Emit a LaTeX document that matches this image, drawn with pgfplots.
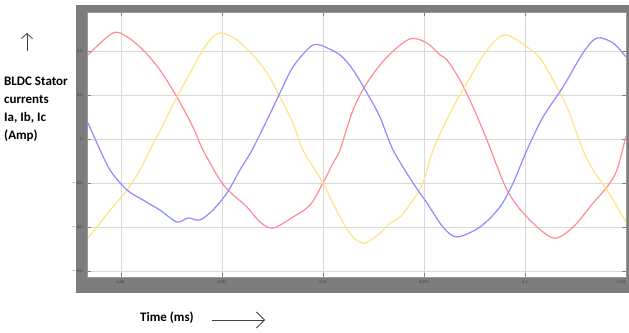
\documentclass[border=0pt]{standalone}
\usepackage{pgfplots}
\pgfplotsset{compat=1.18}
\usetikzlibrary{arrows.meta}
\usepackage{fontspec}
\setmainfont{Carlito}
\definecolor{redc}{RGB}{255,140,150}
\definecolor{yelc}{RGB}{255,228,130}
\definecolor{bluc}{RGB}{140,140,255}
\definecolor{framegray}{RGB}{125,125,125}
\begin{document}
\begin{tikzpicture}[x=1pt,y=1pt]
\path[use as bounding box,fill=white] (0,0) rectangle (629,332);
\fill[framegray] (76,39) rectangle (629,327);
\begin{axis}[at={(87pt,55pt)}, anchor=south west, width=539pt, height=265pt, scale only axis,
  xmin=78.32, xmax=105, ymin=-62.7, ymax=57.7,
  xtick={80,85,...,105}, xticklabels={0.08,0.085,0.09,0.095,0.1,\makebox[0pt][r]{0.105}},
  ytick={-60,-40,...,40},
  grid=major, grid style={black!15, line width=0.8pt},
  axis line style={black!40},
  tick style={black!50},
  tick label style={font=\fontsize{4}{4}\selectfont, text=black!75},
  axis background/.style={fill=white},
  every axis plot/.append style={line width=1.2pt, no markers, smooth, tension=0.5}]
\addplot[redc] coordinates {
(78.37,38.2)(79.60,48.2)(80.30,46.4)(81.09,40.5)(81.93,31.4)(82.77,19.1)(83.56,5.5)(84.06,-5.0)
(84.90,-18.6)(85.40,-24.1)(86.24,-30.9)(86.88,-37.7)(87.52,-40.5)(88.51,-35.5)(89.36,-30.0)
(90.00,-20.0)(90.50,-10.9)(90.84,-5.0)(91.49,13.2)(92.18,25.5)(93.17,37.3)(94.31,45.5)(95.15,43.6)
(95.79,38.2)(96.14,35.9)(96.78,26.8)(97.43,14.5)(98.12,-0.5)(99.11,-23.2)(100.10,-35.5)(101.39,-45.0)
(102.38,-40.0)(103.37,-29.1)(104.06,-21.8)(104.55,-14.1)(105.0,1.4)};
\addplot[yelc] coordinates {
(78.37,-45.0)(78.96,-38.2)(79.60,-30.9)(80.30,-23.2)(80.94,-14.1)(81.53,-3.2)(81.93,3.6)(82.77,19.1)
(83.42,30.0)(84.06,40.5)(84.55,46.4)(85.00,48.2)(85.74,45.0)(86.53,38.2)(87.23,30.0)(87.87,19.1)
(88.51,7.3)(89.01,-5.0)(90.00,-20.0)(90.84,-35.5)(91.49,-44.5)(92.08,-47.3)(92.82,-42.7)(93.32,-38.2)
(93.81,-35.5)(94.46,-27.7)(94.95,-20.0)(95.45,-5.0)(96.29,11.8)(97.13,25.5)(98.12,40.5)(99.01,47.3)
(100.10,41.8)(100.74,36.8)(101.39,26.8)(102.08,14.5)(102.87,-5.0)(103.37,-14.1)(104.06,-23.2)(105.0,-37.7)};
\addplot[bluc] coordinates {
(78.37,7.3)(78.81,-1.8)(79.46,-14.1)(80.30,-23.2)(81.09,-27.7)(81.93,-32.3)(82.77,-37.7)(83.32,-35.9)
(83.91,-36.8)(84.55,-32.3)(85.25,-24.5)(85.89,-14.1)(86.49,-5.0)(87.23,8.6)(87.87,20.9)(88.51,32.7)
(89.36,41.8)(89.85,42.7)(90.84,38.2)(91.49,31.4)(92.18,20.9)(92.82,10.0)(93.47,-5.0)(94.46,-20.0)
(95.15,-29.1)(95.94,-40.0)(96.63,-44.5)(97.77,-40.0)(98.76,-30.9)(99.41,-20.0)(100.10,-5.0)
(100.89,10.0)(101.88,23.6)(102.87,39.1)(103.56,45.9)(104.36,43.6)(105.0,37.3)};
\end{axis}
\draw[black!75, line width=0.8pt, -{Straight Barb[length=5pt,width=11pt]}] (27,281) -- (27,299);
\node[anchor=north west, font=\bfseries\fontsize{13}{18}\selectfont, align=left, inner sep=0pt] at (4,255)
  {BLDC Stator\\currents\\Ia, Ib, Ic\\(Amp)};
\node[anchor=west, font=\bfseries\fontsize{13}{13}\selectfont, inner sep=0pt] at (140,14) {Time (ms)};
\draw[black!75, line width=0.8pt, -{Straight Barb[length=8pt,width=16pt]}] (212,12) -- (265,12);
\end{tikzpicture}
\end{document}
